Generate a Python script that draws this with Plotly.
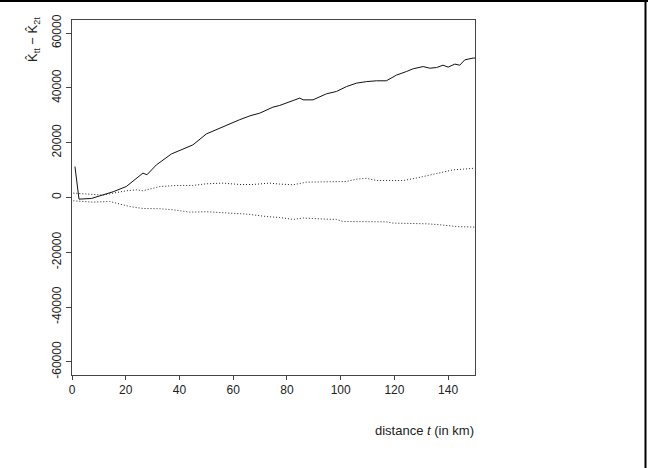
import plotly.graph_objects as go

# Solid line: estimated K_tt - K_2t
t_est = [1.1, 2.6, 7.2, 11.5, 15.3, 20.2, 24.0, 26.4, 27.9, 31.4, 37.0, 41.3, 45.0, 50.0,
         56.2, 62.4, 66.2, 69.9, 74.8, 77.3, 82.3, 84.8, 86.0, 89.7, 94.7, 98.4, 102.2,
         105.9, 109.6, 113.3, 117.0, 120.8, 124.5, 127.0, 130.7, 133.2, 135.7, 138.1,
         140.0, 142.5, 144.3, 146.2, 149.3, 150.0]
v_est = [11300, -600, -360, 1000, 2100, 4000, 7100, 8900, 8300, 11900, 15900, 17700, 19200,
         23200, 25900, 28400, 29800, 30800, 33000, 33600, 35400, 36300, 35650, 35650, 37850,
         38700, 40500, 41750, 42300, 42600, 42600, 44700, 46000, 47000, 47800, 47200, 47450,
         48300, 47600, 48700, 48300, 50250, 50900, 50900]

# Upper dotted envelope
t_up = [0.5, 7.8, 11.5, 16.5, 20.2, 24.0, 26.4, 32.7, 38.9, 45.0, 50.0, 56.2, 62.4, 67.4,
        73.6, 77.3, 82.3, 87.3, 94.7, 102.2, 105.9, 109.6, 113.3, 119.5, 123.3, 128.2,
        131.9, 136.9, 141.9, 145.6, 149.3, 150.0]
v_up = [1600, 1240, 880, 1800, 2450, 2800, 2450, 4000, 4400, 4400, 5000, 5250, 4750, 4750,
        5250, 4900, 4650, 5600, 5850, 5850, 6700, 7000, 6200, 6200, 6200, 7100, 7900, 8900,
        10100, 10350, 10700, 10700]

# Lower dotted envelope
t_lo = [0.5, 7.8, 14.0, 19.0, 21.5, 26.4, 32.7, 37.7, 43.8, 50.0, 55.0, 60.0, 65.0, 72.4,
        77.3, 82.3, 86.0, 94.7, 98.4, 100.9, 110.8, 117.0, 119.5, 124.5, 131.9, 136.9,
        139.4, 143.1, 149.3, 150.0]
v_lo = [-1200, -1700, -1450, -2650, -3300, -4000, -4100, -4500, -5350, -5200, -5500, -5950,
        -6050, -6950, -7300, -8000, -7500, -7900, -8000, -8750, -8750, -8900, -9350, -9350,
        -9600, -9950, -10300, -10600, -10800, -10800]

x_ticks = [0, 20, 40, 60, 80, 100, 120, 140]
x_ticklabels = ["0", "20", "40", "60", "80", "100", "120", "140"]
y_ticks = [-60000, -40000, -20000, 0, 20000, 40000, 60000]
y_ticklabels = ["-60000", "-40000", "-20000", "0", "20000", "40000", "60000"]

fig = go.Figure()
fig.add_trace(go.Scatter(x=t_up, y=v_up, mode="lines",
                         line=dict(color="#222222", width=1, dash="1px,2px")))
fig.add_trace(go.Scatter(x=t_lo, y=v_lo, mode="lines",
                         line=dict(color="#222222", width=1, dash="1px,2px")))
fig.add_trace(go.Scatter(x=t_est, y=v_est, mode="lines",
                         line=dict(color="#111111", width=1)))

L, R, T, B = 72, 173, 20, 93
W, H = 648, 468
pw, ph = W - L - R, H - T - B

axis_common = dict(showline=True, mirror=True, linecolor="#444444", linewidth=1,
                   ticks="outside", tickcolor="#444444", showgrid=False, zeroline=False,
                   tickfont=dict(family="Liberation Sans, Arial", size=12, color="#222222"))

fig.update_layout(
    width=W, height=H,
    margin=dict(l=L, r=R, t=T, b=B, autoexpand=False),
    paper_bgcolor="white", plot_bgcolor="white",
    showlegend=False,
    xaxis=dict(range=[0, 150], tickvals=x_ticks, ticktext=x_ticklabels, ticklen=4,
               **axis_common),
    yaxis=dict(range=[-64800, 64800], tickvals=y_ticks, ticktext=y_ticklabels, ticklen=5,
               tickangle=-90, **axis_common),
    annotations=[
        dict(text="K\u0302<sub>tt</sub> \u2212 K\u0302<sub>2t</sub>", textangle=-90,
             xref="paper", yref="paper", x=(33 - L) / pw, y=(H - B - 40) / ph,
             showarrow=False, xanchor="center", yanchor="middle",
             font=dict(family="Liberation Sans, Arial", size=13, color="#222222")),
        dict(text="distance <i>t</i> (in km)",
             xref="paper", yref="paper", x=(476 - L) / pw, y=(H - B - 430) / ph,
             showarrow=False, xanchor="right", yanchor="middle",
             font=dict(family="Liberation Sans, Arial", size=13, color="#222222")),
    ],
    shapes=[
        dict(type="line", xref="paper", yref="paper",
             x0=-L / pw, x1=(W - L) / pw, y0=(H - B - 1) / ph, y1=(H - B - 1) / ph,
             line=dict(color="black", width=2)),
        dict(type="line", xref="paper", yref="paper",
             x0=(645.5 - L) / pw, x1=(645.5 - L) / pw, y0=-B / ph, y1=(H - B) / ph,
             line=dict(color="black", width=2)),
    ],
)

fig.write_html("out.html", config={"displayModeBar": False},
               post_script="document.body.style.margin='0';document.body.style.overflow='hidden';")
